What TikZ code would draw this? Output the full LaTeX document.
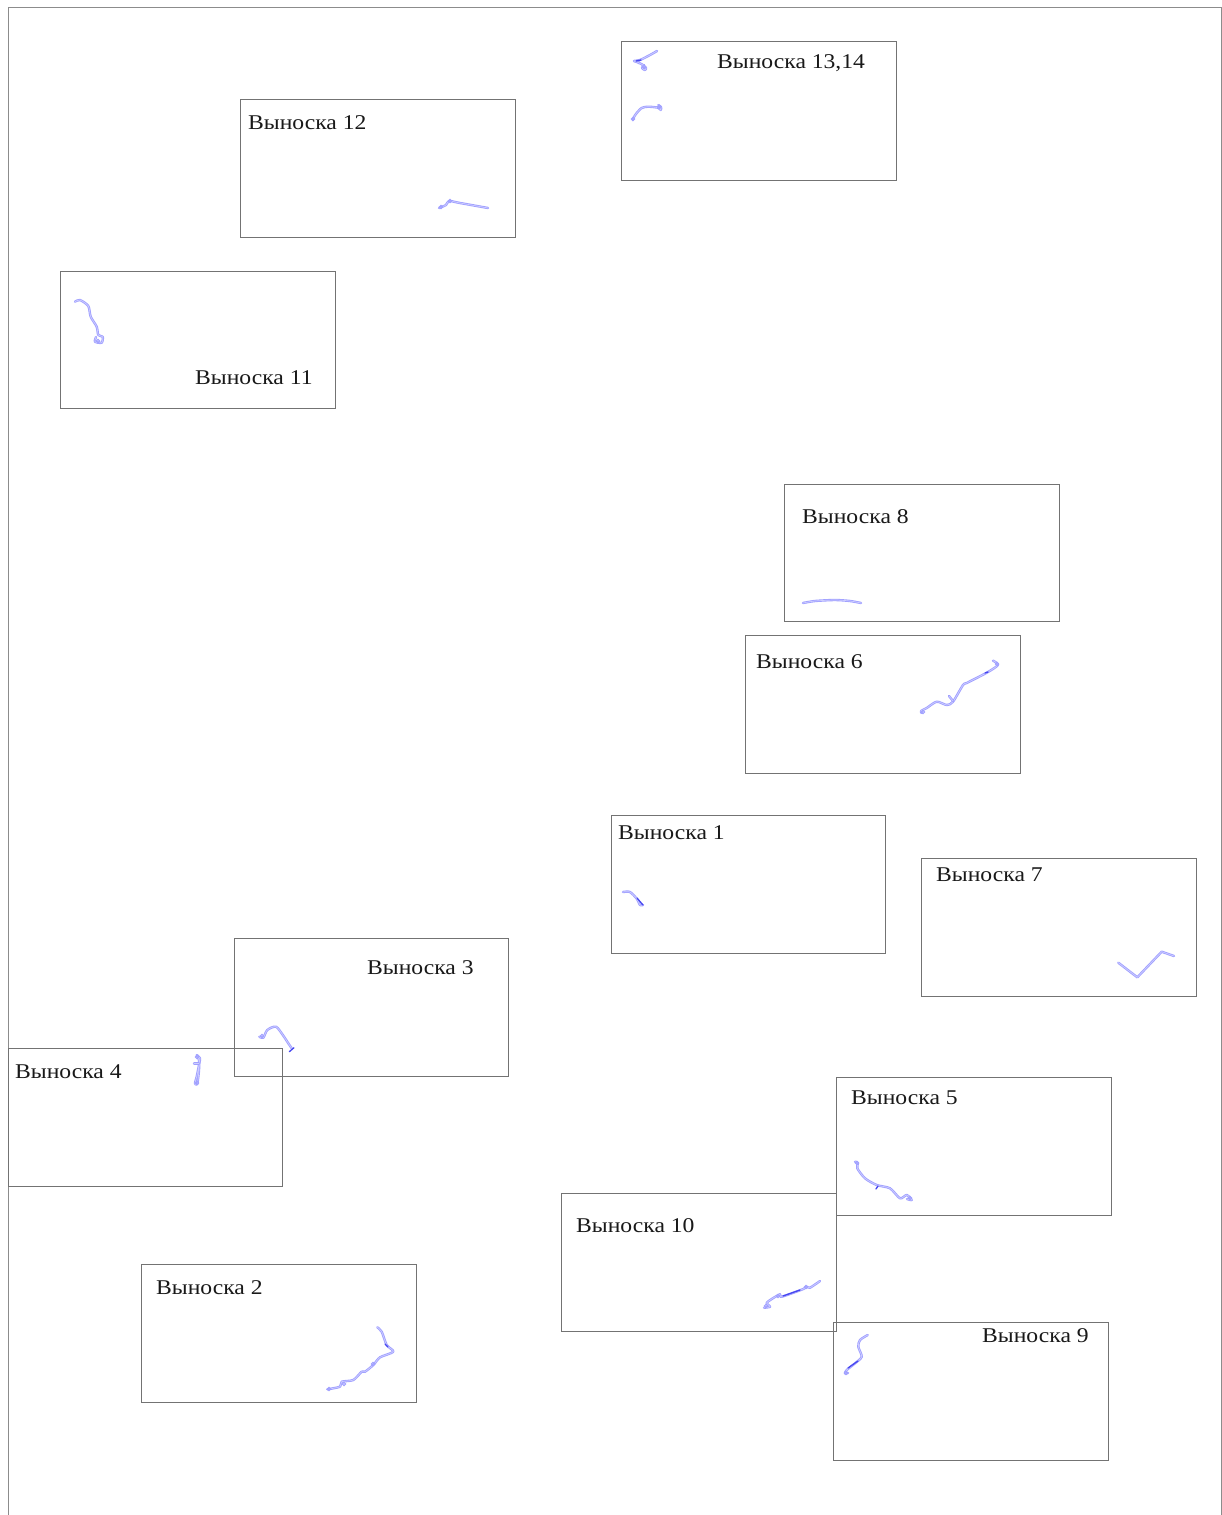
\documentclass[tikz,border=0pt]{standalone}
\usepackage{fontspec}
\setmainfont[FakeStretch=1.125]{Liberation Serif}
\definecolor{cableblue}{RGB}{160,160,255}
\definecolor{coreblue}{RGB}{205,205,255}
\definecolor{accentblue}{RGB}{70,70,240}
\tikzset{
  x=1pt,y=-1pt,
  sheet/.style={draw=black!45,line width=1pt},
  inset/.style={draw=black!55,line width=0.9pt},
  cable/.style={draw=cableblue,line width=2.4pt,line join=round,line cap=round},
  cablecore/.style={draw=coreblue,line width=0.7pt,line join=round,line cap=round},
  accent/.style={draw=accentblue,line width=1.3pt,line cap=round},
  cableloop/.style={draw=cableblue,line width=1pt},
  label/.style={anchor=base west,inner sep=0pt,font=\fontsize{21}{24}\selectfont,text=black!90}
}
\newcommand{\cablepath}[1]{\draw[cable] plot[smooth,tension=0.45] coordinates {#1}; \draw[cablecore] plot[smooth,tension=0.45] coordinates {#1};}
\begin{document}
\begin{tikzpicture}
\useasboundingbox (0,0) rectangle (1222,1515);
\fill[white] (0,0) rectangle (1222,1515);
% sheet frame
\draw[sheet] (8,1515) -- (8,7) -- (1221,7) -- (1221,1515);
% inset boxes
\draw[inset] (611.4,815.9) rectangle (885.8,953.9);
\draw[inset] (141.4,1264.4) rectangle (416.8,1402.4);
\draw[inset] (234,938.9) rectangle (508,1076.9);
\draw[inset] (8,1048) rectangle (282.9,1186.9);
\draw[inset] (836.9,1077) rectangle (1111.9,1215.9);
\draw[inset] (745,635) rectangle (1020,773);
\draw[inset] (921,858) rectangle (1196,996);
\draw[inset] (784,484) rectangle (1059,621.8);
\draw[inset] (833.4,1322) rectangle (1108,1460.8);
\draw[inset] (561.4,1193) rectangle (836.8,1331.8);
\draw[inset] (60.4,271) rectangle (335.8,408.9);
\draw[inset] (240.4,99.4) rectangle (515.8,237.9);
\draw[inset] (621,41.5) rectangle (896,180);
% labels
\node[label] (v1) at (618,839.4) {Выноска 1};
\node[label] (v2) at (156,1294.4) {Выноска 2};
\node[label] (v3) at (367,974.4) {Выноска 3};
\node[label] (v4) at (15,1078) {Выноска 4};
\node[label] (v5) at (851,1104) {Выноска 5};
\node[label] (v6) at (756,668.4) {Выноска 6};
\node[label] (v7) at (936,881.4) {Выноска 7};
\node[label] (v8) at (802,523.4) {Выноска 8};
\node[label] (v9) at (982,1342.4) {Выноска 9};
\node[label] (v10) at (576,1232.4) {Выноска 10};
\node[label] (v11) at (195,384.4) {Выноска 11};
\node[label] (v12) at (248,129.4) {Выноска 12};
\node[label] (v13) at (717,68.4) {Выноска 13,14};
% routes
\cablepath{(657,51) (650,55) (640,60) (634,61) (637,62) (643,65) (646,68) (645,70) (642,68) (644,65)}
\cablepath{(632.7,120) (634,117) (636.7,113) (641.7,108) (648,106.7) (658,107.7) (660.7,110) (661,107) (658.3,105)}
\cablepath{(439,208) (446,205) (449,201) (460,203) (488,208)}
\cablepath{(75,301.7) (80,300) (88.3,306) (90.7,316.7) (96.7,326.7) (98.3,335) (102.7,336.7) (101.7,342.7) (95,341.7) (96,337)}
\cablepath{(803,603) (815,601) (835,600) (850,601) (861,603)}
\cablepath{(921.7,713) (921,711) (926.7,708) (936.7,701.7) (946.7,705) (953,701.7) (963,685) (966.7,683) (986.7,672.7) (998,665) (993,660.7)}
\cablepath{(953,701) (949,696)}
\cablepath{(623,892) (630,892) (637,899) (640,905) (643,905)}
\draw[cable] (1118.3,962.7) -- (1137.3,977.3) -- (1161.7,951.7) -- (1174,956);
\draw[cablecore] (1118.3,962.7) -- (1137.3,977.3) -- (1161.7,951.7) -- (1174,956);
\cablepath{(259.3,1036.7) (263.3,1037.7) (267.3,1030) (276,1026.7) (283.3,1035.7) (288.3,1043.3) (291.7,1048.3)}
\cablepath{(196.7,1055) (200,1058.3) (199,1065) (196.7,1076.7) (195,1083.3) (197.3,1084) (199,1070) (199,1060) (196.7,1055)}
\cablepath{(194,1063.3) (199,1063.3)}
\cablepath{(855,1161.7) (858,1163) (857.3,1168.3) (865,1178.3) (876.7,1185) (890,1188.3) (900,1198.3) (906.7,1195) (911.7,1200) (907,1199)}
\cablepath{(764,1307.7) (770,1306.7) (766.7,1303) (771.7,1299) (780,1294.3) (781.7,1296.7) (803.3,1289) (806.7,1286.7) (810,1287.7) (820,1281)}
\cablepath{(867.7,1335) (860,1340) (858.3,1346.7) (861.7,1356.7) (855,1363.3) (846.7,1370) (845,1373.3) (848,1373)}
\cablepath{(327.3,1389.3) (340,1386.7) (341.7,1381.7) (353.3,1380) (361.7,1371.7) (365,1371.7) (373.3,1365) (380,1357.3) (393.3,1351.7) (386.7,1345) (381.7,1331.7) (377.3,1327.3)}
% small end loops along the routes
\foreach \lx/\ly in {644/67,659/107,633/119,441/207,450/201,923/712,997/664,329/1389,344/1384,373/1364,910/1198,857/1163,766/1306,778/1296,806/1287,846/1373,197/1057,197/1083,262/1036,98/341}
  \draw[cableloop] (\lx,\ly) circle[radius=1.6pt];
% dense dark spots
\draw[accent] (289.3,1051.7) -- (294,1047.7);
\draw[accent] (636,61) -- (641,60);
\draw[accent] (637,898) -- (643,905);
\draw[accent] (876,1189) -- (878,1186);
\draw[accent] (848,1368) -- (858,1361);
\draw[accent] (985,673) -- (988,672);
\draw[accent] (385,1344) -- (388,1347);
\draw[accent] (783,1296) -- (800,1290);
\end{tikzpicture}
\end{document}
